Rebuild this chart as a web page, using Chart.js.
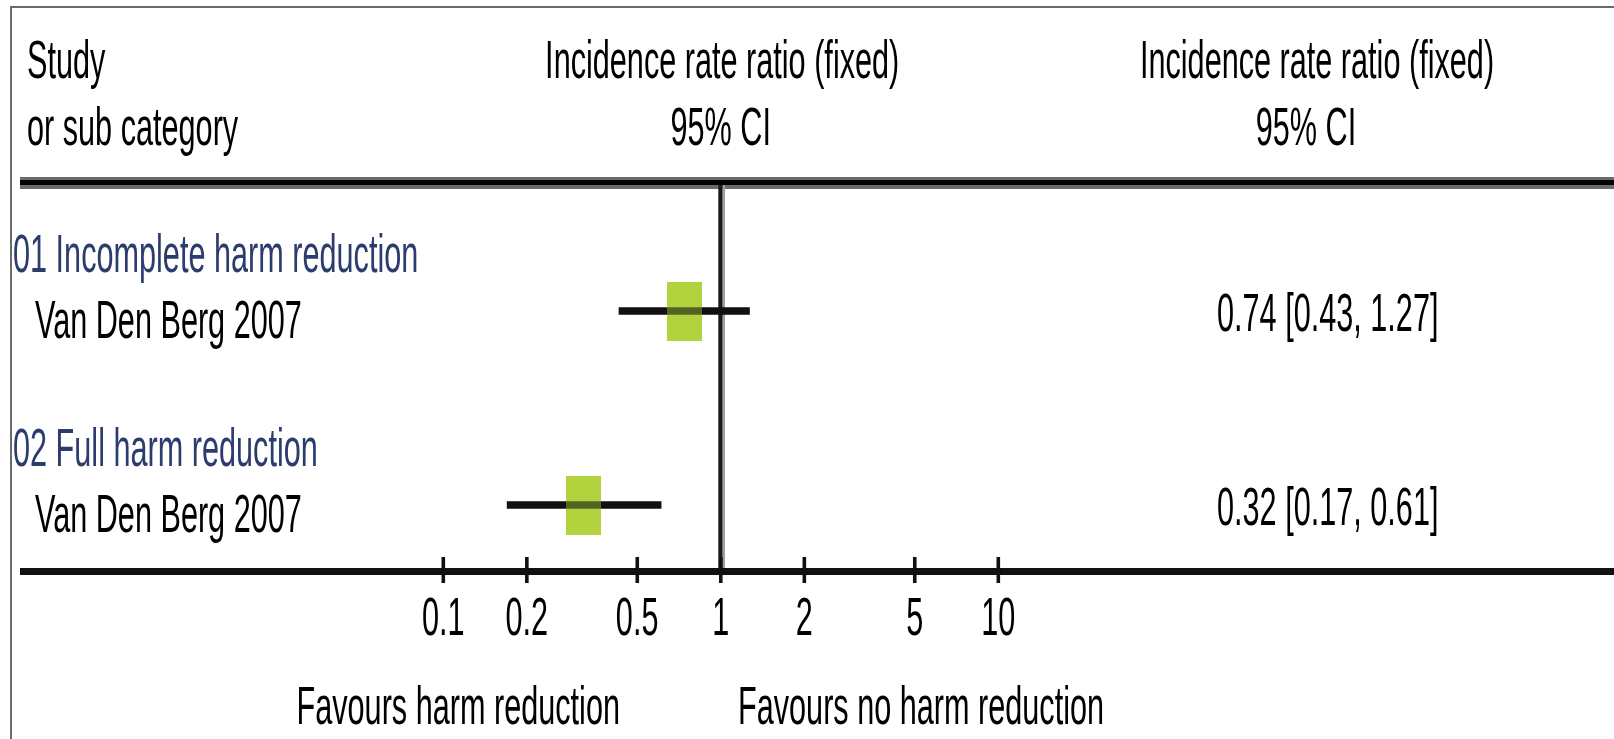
<!DOCTYPE html>
<html>
<head>
<meta charset="utf-8">
<script src="https://cdn.jsdelivr.net/npm/chart.js@4.4.1/dist/chart.umd.min.js"></script>
<style>
  html, body { margin: 0; padding: 0; background: #fff; }
  #wrap { position: relative; width: 1614px; height: 739px; }
</style>
</head>
<body>
<div id="wrap"><canvas id="forest"></canvas></div>
<script>
// forest plot data
const groups = ["01 Incomplete harm reduction", "02 Full harm reduction"];
const studies = ["Van Den Berg 2007", "Van Den Berg 2007"];
const irr = [0.74, 0.32];
const ciLow = [0.43, 0.17];
const ciHigh = [1.27, 0.61];
const tickValues = [0.1, 0.2, 0.5, 1, 2, 5, 10];
const tickLabels = ["0.1", "0.2", "0.5", "1", "2", "5", "10"];
const colHeaders = ["Study", "or sub category"];
const plotHeaders = ["Incidence rate ratio (fixed)", "95% CI"];
const favours = ["Favours harm reduction", "Favours no harm reduction"];

(function () {
  const font = "'Liberation Sans', Arial, sans-serif";
  const squeeze = 0.578;
  const green = "#b3d33f";
  const navy = "#2c3c6c";
  const ink = "#111111";
  const frame = "#6b6b6b";

  function text(ctx, str, x, y, align, color) {
    ctx.save();
    ctx.translate(x, y);
    ctx.scale(squeeze, 1);
    ctx.font = "53px " + font;
    ctx.fillStyle = color || "#000";
    ctx.textAlign = align || "left";
    ctx.textBaseline = "alphabetic";
    ctx.fillText(str, 0, 0);
    ctx.restore();
  }

  // weight box (drawn as an image point style)
  function box(alpha) {
    const c = document.createElement("canvas");
    c.width = 35;
    c.height = 59;
    const g = c.getContext("2d");
    g.globalAlpha = alpha;
    g.fillStyle = green;
    g.fillRect(0, 0, 35, 59);
    return c;
  }

  const rows = irr.map((_, i) => i + 1);
  const label = (i) => `${irr[i].toFixed(2)} [${ciLow[i].toFixed(2)}, ${ciHigh[i].toFixed(2)}]`;

  const decor = {
    id: "decor",
    beforeDatasetsDraw(chart) {
      const ctx = chart.ctx;
      const xs = chart.scales.x;
      const W = chart.width;
      ctx.save();
      // outer frame (top + left)
      ctx.fillStyle = frame;
      ctx.fillRect(10, 6, W - 10, 2);
      ctx.fillRect(10, 6, 2, chart.height - 6);
      // header rule
      ctx.fillRect(20, 177, W - 20, 12);
      ctx.fillStyle = "#000";
      ctx.fillRect(20, 180, W - 20, 5);
      // line of no effect
      const x1 = xs.getPixelForValue(1);
      ctx.fillStyle = "#1a1a1a";
      ctx.fillRect(x1 - 2.4, 185, 4.4, 387);
      ctx.fillStyle = "#a0a0a0";
      ctx.fillRect(x1 + 2, 185, 2.3, 387);
      // bottom axis + ticks
      ctx.fillStyle = ink;
      ctx.fillRect(20, 568, W - 20, 7);
      tickValues.forEach((v) => {
        const px = xs.getPixelForValue(v);
        ctx.fillRect(px - 1.7, 557, 3.6, 26);
      });
      ctx.restore();
    },
    afterDatasetsDraw(chart) {
      const ctx = chart.ctx;
      const xs = chart.scales.x;
      const ys = chart.scales.y;
      const x1 = xs.getPixelForValue(1);
      text(ctx, colHeaders[0], 27, 78);
      text(ctx, colHeaders[1], 27, 145);
      text(ctx, plotHeaders[0], x1 + 1.5, 78, "center");
      text(ctx, plotHeaders[1], x1, 145, "center");
      text(ctx, plotHeaders[0], 1317, 78, "center");
      text(ctx, plotHeaders[1], 1306, 145, "center");
      rows.forEach((r, i) => {
        const py = ys.getPixelForValue(r);
        text(ctx, groups[i], 13, py - 39, "left", navy);
        text(ctx, studies[i], 35, py + 27);
        text(ctx, label(i), 1217, py + 20);
      });
      tickValues.forEach((v, i) => {
        text(ctx, tickLabels[i], xs.getPixelForValue(v), 635, "center");
      });
      text(ctx, favours[0], 620, 724, "right");
      text(ctx, favours[1], 738, 724, "left");
    },
  };

  const points = rows.map((r, i) => ({ x: irr[i], y: r }));

  new Chart(document.getElementById("forest"), {
    data: {
      datasets: [
        {
          type: "scatter",
          label: "box",
          data: points,
          pointStyle: box(1),
          pointRadius: 3,
          order: 3,
        },
        {
          type: "bar",
          label: "95% CI",
          indexAxis: "y",
          data: rows.map((r, i) => ({ x: [ciLow[i], ciHigh[i]], y: r })),
          backgroundColor: ink,
          borderWidth: 0,
          barThickness: 7,
          order: 2,
        },
        {
          type: "scatter",
          label: "box overlay",
          data: points,
          pointStyle: box(0.42),
          pointRadius: 3,
          order: 1,
        },
      ],
    },
    options: {
      responsive: true,
      maintainAspectRatio: false,
      animation: false,
      events: [],
      layout: { padding: { left: 443.2, right: 615.8, top: 117, bottom: 40 } },
      plugins: { legend: { display: false }, tooltip: { enabled: false } },
      scales: {
        x: { type: "logarithmic", min: 0.1, max: 10, display: false, offset: false },
        y: { type: "linear", min: 0, max: 3, reverse: true, display: false, offset: false },
      },
    },
    plugins: [decor],
  });
})();
</script>
</body>
</html>
